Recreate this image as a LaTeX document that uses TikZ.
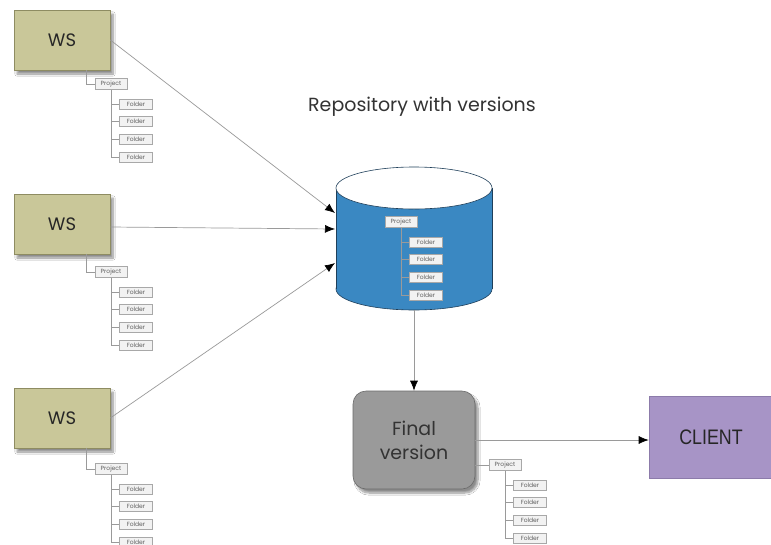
\documentclass[tikz,border=0pt]{standalone}
\usepackage{fontspec}
\setmainfont{Poppins}
\newfontfamily\clientfont{Liberation Sans}
\usetikzlibrary{arrows.meta,calc,shadows.blur}

\definecolor{wsfill}{HTML}{C9C799}
\definecolor{wsdraw}{HTML}{8E8C62}
\definecolor{repoblue}{HTML}{3A88C2}
\definecolor{repodraw}{HTML}{1F3F5A}
\definecolor{finalfill}{HTML}{9A9A9A}
\definecolor{finaldraw}{HTML}{6A6A6A}
\definecolor{clientfill}{HTML}{A794C6}
\definecolor{clientdraw}{HTML}{8C7BAA}
\definecolor{linegray}{HTML}{9A9A9A}
\definecolor{smallfill}{HTML}{F2F2F2}
\definecolor{smalldraw}{HTML}{A8A8A8}
\definecolor{smalltext}{HTML}{5E5E5E}

\tikzset{
  wsbox/.style={draw=wsdraw, fill=wsfill, line width=0.6pt,
    minimum width=96pt, minimum height=60pt, inner sep=0pt,
    font=\fontsize{18}{18}\selectfont, text=black!85,
    blur shadow={shadow xshift=3pt, shadow yshift=-4pt, shadow blur steps=8, shadow opacity=45}},
  finalbox/.style={draw=finaldraw, fill=finalfill, line width=0.6pt, rounded corners=13pt,
    minimum width=122pt, minimum height=98pt, inner sep=0pt, align=center,
    font=\fontsize{19}{24}\selectfont, text=black!80,
    blur shadow={shadow xshift=3pt, shadow yshift=-4pt, shadow blur steps=8, shadow opacity=45}},
  clientbox/.style={draw=clientdraw, fill=clientfill, line width=0.6pt,
    minimum width=124pt, minimum height=82pt, inner sep=0pt,
    font=\clientfont\fontsize{21}{21}\selectfont, text=black!85},
  projbox/.style={draw=smalldraw, fill=smallfill, line width=0.5pt,
    minimum width=32pt, minimum height=11pt, inner sep=0pt,
    font=\fontsize{6}{6}\selectfont, text=smalltext},
  folderbox/.style={projbox, minimum width=33pt, minimum height=10pt},
  treeline/.style={draw=linegray, line width=0.6pt},
  flow/.style={draw=linegray, line width=0.7pt, -{Latex[length=10pt,width=8pt,color=black]}},
  titletext/.style={font=\fontsize{19}{19}\selectfont, text=black!80}
}

% A project with four folders below it: #1 name prefix, #2/#3 project centre
\newcommand\foldertree[3]{%
  \node[projbox] (#1p) at (#2,#3) {Project};
  \foreach \k in {1,...,4}{
    \node[folderbox] (#1f\k) at ($(#1p.center)+(25,{20+17.7*(\k-1)})$) {Folder};
  }
  \draw[treeline] (#1p.south) -- (#1p.south |- #1f4.west);
  \foreach \k in {1,...,4}{
    \draw[treeline] (#1p.south |- #1f\k.west) -- (#1f\k.west);
  }
}

\begin{document}
\begin{tikzpicture}[x=1pt,y=-1pt]
\useasboundingbox[fill=white] (0,0) rectangle (771,544);

% workstations
\node[wsbox] (ws1) at (62,40) {WS};
\node[wsbox] (ws2) at (62,224) {WS};
\node[wsbox] (ws3) at (62,418) {WS};

\foldertree{wsa}{111}{84}
\foldertree{wsb}{111}{272}
\foldertree{wsc}{111}{469}

\draw[treeline] (wsap.west) -| ([xshift=24pt]ws1.south);
\draw[treeline] (wsbp.west) -| ([xshift=24pt]ws2.south);
\draw[treeline] (wscp.west) -| ([xshift=24pt]ws3.south);

% repository cylinder
\node[minimum width=156pt, minimum height=143pt, inner sep=0pt] (repo) at (414,238.5) {};
\fill[repoblue, draw=repodraw, line width=0.6pt] (414,289) ellipse [x radius=78, y radius=21];
\fill[repoblue] (336,188) rectangle (492,289);
\draw[repodraw, line width=0.6pt] (336,188) -- (336,289);
\draw[repodraw, line width=0.6pt] (492,188) -- (492,289);
\fill[white, draw=repodraw, line width=0.6pt] (414,188) ellipse [x radius=78, y radius=21];

\foldertree{rep}{401}{222}

\node[titletext] (title) at (422,107) {Repository with versions};

% inputs into the repository
\coordinate (in1) at (335,213);
\coordinate (in2) at (335,229);
\coordinate (in3) at (335,263);
\draw[flow] (ws1.east) -- (in1);
\draw[flow] ([yshift=-3pt]ws2.east) -- (in2);
\draw[flow] (ws3.east) -- (in3);

% final version and client
\node[finalbox] (fv) at (414,440) {Final\\version};
\node[clientbox] (client) at (711,437) {\scalebox{0.85}[1]{CLIENT}};

\draw[flow] (repo.south) -- (fv.north);
\draw[flow] (fv.east) -- (client.west |- fv.east);

\foldertree{fin}{505}{465}
\draw[treeline] (finp.west) -- (finp.west -| fv.east);
\end{tikzpicture}
\end{document}
